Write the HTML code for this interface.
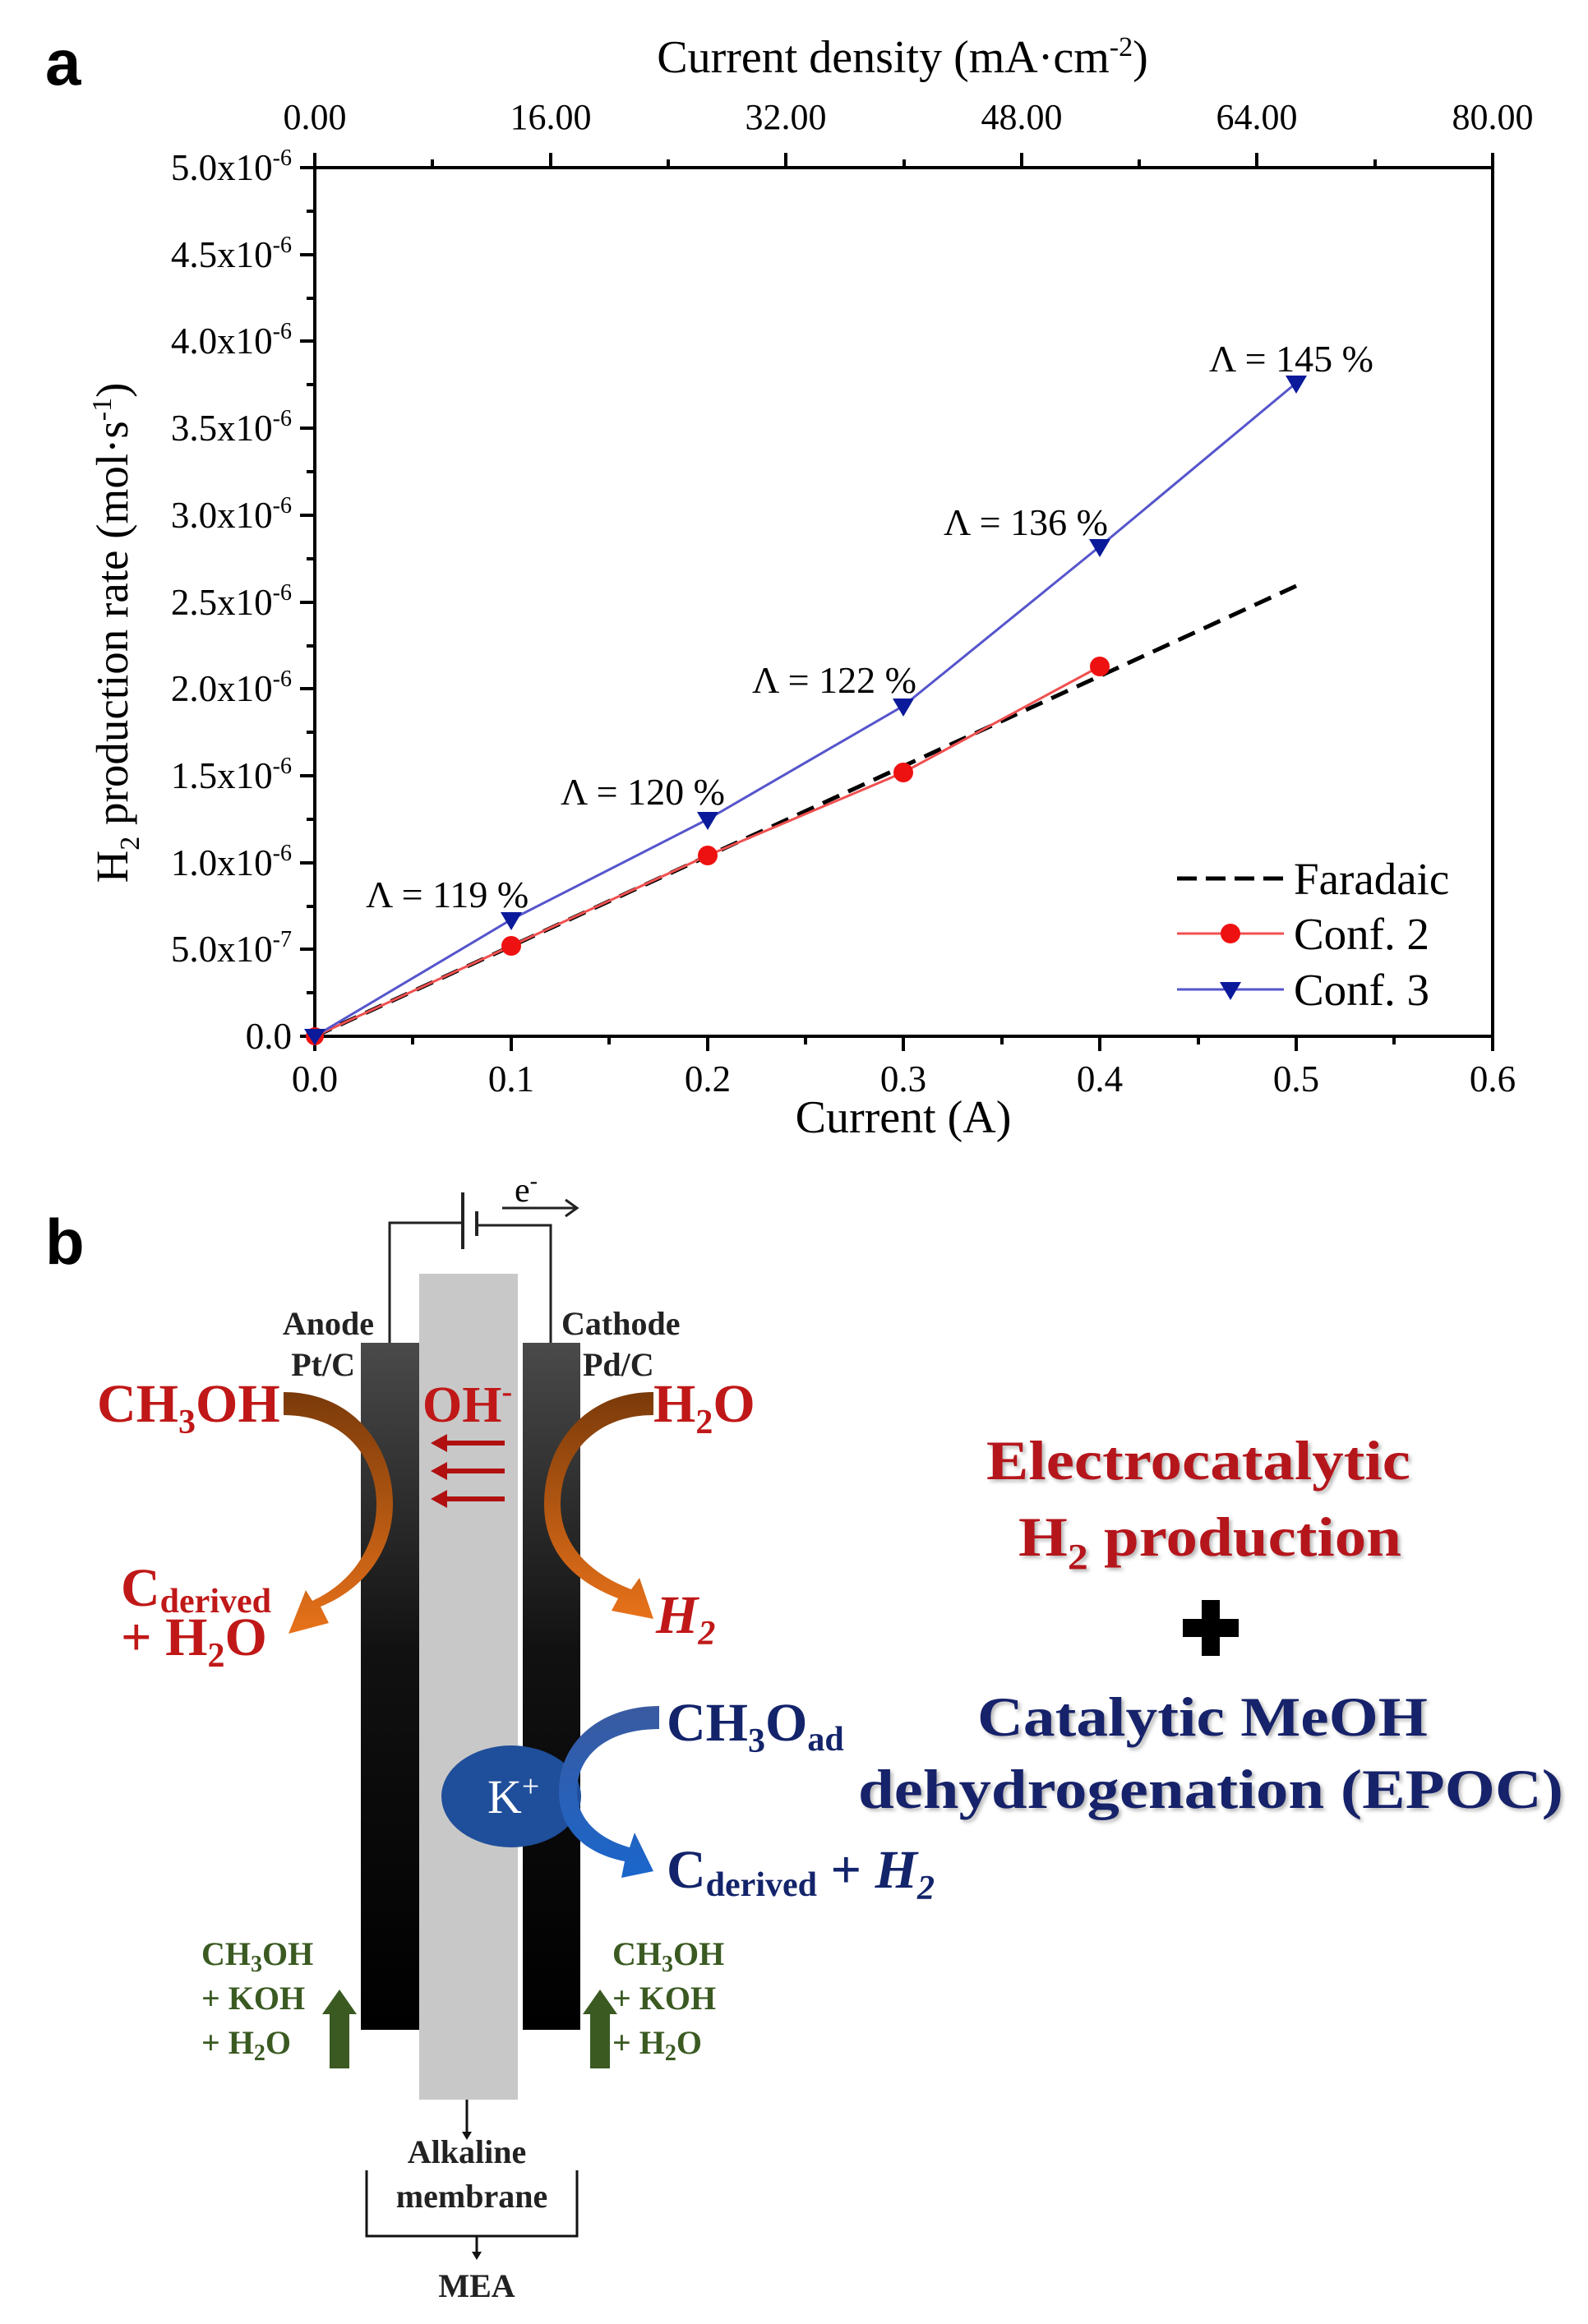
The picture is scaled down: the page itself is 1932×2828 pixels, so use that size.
<!DOCTYPE html>
<html><head><meta charset="utf-8"><style>
html,body{margin:0;padding:0;background:#fff}
svg{display:block}
text{font-family:"Liberation Serif",serif}
</style></head><body>
<svg width="1932" height="2828" viewBox="0 0 1932 2828" xmlns="http://www.w3.org/2000/svg">
<defs>
<linearGradient id="el" x1="0" y1="0" x2="0" y2="1">
<stop offset="0" stop-color="#4a4a4a"/><stop offset="0.45" stop-color="#111"/><stop offset="1" stop-color="#000"/>
</linearGradient>
<linearGradient id="or" x1="0" y1="0" x2="0" y2="1">
<stop offset="0" stop-color="#7a3a0a"/><stop offset="1" stop-color="#e8721a"/>
</linearGradient>
<linearGradient id="bl" x1="0" y1="0" x2="0" y2="1">
<stop offset="0" stop-color="#3a5aa0"/><stop offset="1" stop-color="#1a66cc"/>
</linearGradient>
<filter id="sh"><feDropShadow dx="3" dy="3" stdDeviation="2" flood-color="#888" flood-opacity="0.6"/></filter>
</defs>

<text x="55" y="103" font-weight="bold" font-size="78" style="font-family:'Liberation Sans',sans-serif">a</text>

<text x="1098" y="88" font-size="56" text-anchor="middle">Current density (mA·cm<tspan dy="-20" font-size="34">-2</tspan><tspan dy="20">)</tspan></text>
<g font-size="44" text-anchor="middle">
<text x="383" y="157">0.00</text><text x="670" y="157">16.00</text><text x="956" y="157">32.00</text>
<text x="1243" y="157">48.00</text><text x="1529" y="157">64.00</text><text x="1816" y="157">80.00</text>
</g>

<g stroke="#000" stroke-width="4" fill="none">
<rect x="383" y="204" width="1433" height="1057"/>
<path d="M383 204v-18M670 204v-18M956 204v-18M1243 204v-18M1529 204v-18M1816 204v-18"/>
<path d="M526 204v-10M813 204v-10M1100 204v-10M1386 204v-10M1673 204v-10"/>
<path d="M383 1261v18M622 1261v18M861 1261v18M1099 1261v18M1338 1261v18M1577 1261v18M1816 1261v18"/>
<path d="M502 1261v10M741 1261v10M980 1261v10M1219 1261v10M1458 1261v10M1696 1261v10"/>
<path d="M383 204h-18M383 310h-18M383 415h-18M383 521h-18M383 627h-18M383 733h-18M383 838h-18M383 944h-18M383 1050h-18M383 1155h-18M383 1261h-18"/>
<path d="M383 257h-10M383 363h-10M383 468h-10M383 574h-10M383 680h-10M383 786h-10M383 891h-10M383 997h-10M383 1103h-10M383 1208h-10"/>
</g>
<g font-size="45" text-anchor="end">
<text x="355" y="219">5.0x10<tspan dy="-18" font-size="28">-6</tspan></text>
<text x="355" y="325">4.5x10<tspan dy="-18" font-size="28">-6</tspan></text>
<text x="355" y="430">4.0x10<tspan dy="-18" font-size="28">-6</tspan></text>
<text x="355" y="536">3.5x10<tspan dy="-18" font-size="28">-6</tspan></text>
<text x="355" y="642">3.0x10<tspan dy="-18" font-size="28">-6</tspan></text>
<text x="355" y="748">2.5x10<tspan dy="-18" font-size="28">-6</tspan></text>
<text x="355" y="853">2.0x10<tspan dy="-18" font-size="28">-6</tspan></text>
<text x="355" y="959">1.5x10<tspan dy="-18" font-size="28">-6</tspan></text>
<text x="355" y="1065">1.0x10<tspan dy="-18" font-size="28">-6</tspan></text>
<text x="355" y="1170">5.0x10<tspan dy="-18" font-size="28">-7</tspan></text>
<text x="355" y="1276">0.0</text>
</g>
<g font-size="45" text-anchor="middle">
<text x="383" y="1328">0.0</text><text x="622" y="1328">0.1</text><text x="861" y="1328">0.2</text>
<text x="1099" y="1328">0.3</text><text x="1338" y="1328">0.4</text><text x="1577" y="1328">0.5</text><text x="1816" y="1328">0.6</text>
</g>
<text x="1099" y="1378" font-size="56" text-anchor="middle">Current (A)</text>
<text transform="translate(155,770) rotate(-90)" font-size="55" text-anchor="middle">H<tspan dy="14" font-size="34">2</tspan><tspan dy="-14"> production rate (mol·s</tspan><tspan dy="-20" font-size="34">-1</tspan><tspan dy="20">)</tspan></text>

<polyline points="383,1261 1577,713" stroke="#000" stroke-width="5" stroke-dasharray="22,12" fill="none"/>
<polyline points="383,1261 622,1151 861,1041 1099,940 1338,811" stroke="#f05050" stroke-width="3" fill="none"/>
<g fill="#ee1111"><circle cx="383" cy="1261" r="11"/><circle cx="622" cy="1151" r="12"/><circle cx="861" cy="1041" r="12"/><circle cx="1099" cy="940" r="12"/><circle cx="1338" cy="811" r="12"/></g>
<polyline points="383,1261 622,1119 861,997 1099,859 1338,665 1577,466" stroke="#5555cc" stroke-width="3" fill="none"/>
<g fill="#0a1a9a">
<path d="M370 1252h26l-13 20z"/><path d="M609 1110h26l-13 22z"/><path d="M848 988h26l-13 22z"/>
<path d="M1086 850h26l-13 22z"/><path d="M1325 656h26l-13 22z"/><path d="M1564 457h26l-13 22z"/>
</g>
<g font-size="46">
<text x="445" y="1104">Λ = 119 %</text><text x="682" y="979">Λ = 120 %</text><text x="915" y="843">Λ = 122 %</text>
<text x="1148" y="651">Λ = 136 %</text><text x="1471" y="452">Λ = 145 %</text>
</g>
<line x1="1432" y1="1069" x2="1562" y2="1069" stroke="#000" stroke-width="5" stroke-dasharray="24,11"/>
<line x1="1432" y1="1136" x2="1562" y2="1136" stroke="#f05050" stroke-width="3"/>
<circle cx="1497" cy="1136" r="12" fill="#ee1111"/>
<line x1="1432" y1="1204" x2="1562" y2="1204" stroke="#5555cc" stroke-width="3"/>
<path d="M1484 1195h26l-13 22z" fill="#0a1a9a"/>
<g font-size="55"><text x="1574" y="1088">Faradaic</text><text x="1574" y="1155">Conf. 2</text><text x="1574" y="1223">Conf. 3</text></g>

<text x="55" y="1538" font-weight="bold" font-size="78" style="font-family:'Liberation Sans',sans-serif">b</text>

<g stroke="#222" stroke-width="3" fill="none">
<path d="M474 1634V1488H563M580 1491H670V1634"/>
<path d="M563 1451v69" stroke-width="4"/><path d="M580 1474v30" stroke-width="4"/>
<path d="M611 1470h90M688 1460l14 10l-14 10"/>
</g>
<text x="626" y="1462" font-size="42">e<tspan dy="-16" font-size="28">-</tspan></text>

<rect x="510" y="1550" width="120" height="1005" fill="#c8c8c8"/>
<rect x="439" y="1634" width="71" height="836" fill="url(#el)"/>
<rect x="636" y="1634" width="70" height="836" fill="url(#el)"/>

<g font-size="40" font-weight="bold" fill="#222">
<text x="455" y="1624" text-anchor="end">Anode</text>
<text x="432" y="1674" text-anchor="end">Pt/C</text>
<text x="683" y="1624">Cathode</text>
<text x="709" y="1674">Pd/C</text>
</g>

<path d="M345 1694 C 430 1694, 478 1760, 478 1830 C 478 1890, 440 1935, 390 1955 L 400 1975 L 351 1988 L 372 1935 L 380 1948 C 430 1925, 458 1880, 458 1830 C 458 1775, 420 1722, 345 1722 Z" fill="url(#or)"/>
<path d="M795 1694 C 710 1694, 662 1760, 662 1830 C 662 1890, 700 1925, 752 1945 L 744 1960 L 795 1970 L 778 1920 L 768 1934 C 718 1915, 682 1880, 682 1830 C 682 1775, 720 1722, 795 1722 Z" fill="url(#or)"/>

<g fill="#c01818" font-weight="bold">
<text x="118" y="1730" font-size="66">CH<tspan dy="14" font-size="42">3</tspan><tspan dy="-14">OH</tspan></text>
<text x="514" y="1730" font-size="62">OH<tspan dy="-24" font-size="38">-</tspan></text>
<text x="795" y="1730" font-size="66">H<tspan dy="14" font-size="42">2</tspan><tspan dy="-14">O</tspan></text>
<text x="147" y="1954" font-size="66">C<tspan font-size="42" dy="8">derived</tspan></text>
<text x="147" y="2014" font-size="66">+ H<tspan dy="14" font-size="42">2</tspan><tspan dy="-14">O</tspan></text>
<text x="798" y="1987" font-size="66" font-style="italic">H<tspan dy="14" font-size="42">2</tspan></text>
</g>
<g stroke="#b01010" stroke-width="6"><path d="M540 1756h74M540 1790h74M540 1824h74"/></g>
<g fill="#b01010"><path d="M524 1756l20-11v22z"/><path d="M524 1790l20-11v22z"/><path d="M524 1824l20-11v22z"/></g>

<ellipse cx="622" cy="2186" rx="85" ry="62" fill="#1f4e9a"/>
<text x="593" y="2206" font-size="58" fill="#fff">K<tspan dy="-20" font-size="38">+</tspan></text>
<path d="M802 2076 C 730 2076, 680 2120, 680 2180 C 680 2225, 710 2255, 760 2265 L 756 2285 L 795 2277 L 772 2230 L 766 2248 C 730 2238, 702 2215, 702 2180 C 702 2135, 740 2104, 802 2104 Z" fill="url(#bl)"/>
<g fill="#13246b" font-weight="bold">
<text x="811" y="2118" font-size="66">CH<tspan dy="14" font-size="42">3</tspan><tspan dy="-14">O</tspan><tspan dy="12" font-size="42">ad</tspan></text>
<text x="811" y="2297" font-size="66">C<tspan dy="10" font-size="42">derived</tspan><tspan dy="-10"> + </tspan><tspan font-style="italic">H</tspan><tspan dy="14" font-size="42" font-style="italic">2</tspan></text>
</g>

<g fill="#3a5a22" font-size="40" font-weight="bold">
<text x="245" y="2391">CH<tspan dy="8" font-size="28">3</tspan><tspan dy="-8">OH</tspan></text>
<text x="245" y="2445">+ KOH</text>
<text x="245" y="2499">+ H<tspan dy="8" font-size="28">2</tspan><tspan dy="-8">O</tspan></text>
<text x="745" y="2391">CH<tspan dy="8" font-size="28">3</tspan><tspan dy="-8">OH</tspan></text>
<text x="745" y="2445">+ KOH</text>
<text x="745" y="2499">+ H<tspan dy="8" font-size="28">2</tspan><tspan dy="-8">O</tspan></text>
</g>
<g fill="#3a5a22">
<path d="M401 2517v-66h-9l21-30 21 30h-9v66z"/>
<path d="M718 2517v-66h-9l21-30 21 30h-9v66z"/>
</g>

<g stroke="#111" stroke-width="3" fill="none">
<path d="M568 2555v42"/><path d="M446 2641v80h256v-80"/><path d="M580 2721v22"/>
</g>
<path d="M562 2594l6 10 6-10z M574 2740l6 10 6-10z" fill="#111"/>
<g font-size="40" font-weight="bold" fill="#222" text-anchor="middle">
<text x="568" y="2632">Alkaline</text>
<text x="574" y="2686">membrane</text>
<text x="580" y="2795">MEA</text>
</g>

<g font-weight="bold" text-anchor="middle" filter="url(#sh)">
<text x="1458" y="1800" font-size="68" fill="#b5121b" textLength="516" lengthAdjust="spacingAndGlyphs">Electrocatalytic</text>
<text x="1472" y="1893" font-size="68" fill="#b5121b" textLength="466" lengthAdjust="spacingAndGlyphs">H<tspan dy="16" font-size="44">2</tspan><tspan dy="-16"> production</tspan></text>
<text x="1463" y="2112" font-size="68" fill="#13246b" textLength="548" lengthAdjust="spacingAndGlyphs">Catalytic MeOH</text>
<text x="1473" y="2200" font-size="68" fill="#13246b" textLength="858" lengthAdjust="spacingAndGlyphs">dehydrogenation (EPOC)</text>
</g>
<path d="M1462 1947h22v23h23v22h-23v23h-22v-23h-23v-22h23z" fill="#000"/>
</svg>
</body></html>
